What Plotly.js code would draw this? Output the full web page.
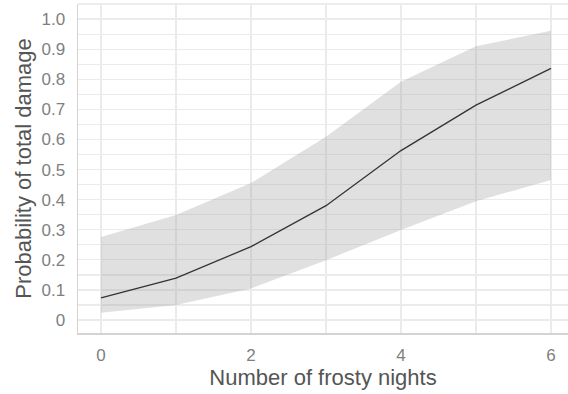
<!DOCTYPE html>
<html>
<head>
<meta charset="utf-8">
<script src="https://cdn.plot.ly/plotly-3.0.1.min.js"></script>
<style>html,body{margin:0;padding:0;background:#fff;}#chart{width:568px;height:394px;}</style>
</head>
<body>
<div id="chart"></div>
<script>
var nights = [0, 1, 2, 3, 4, 5, 6];
var probFit = [0.074, 0.139, 0.244, 0.38, 0.563, 0.714, 0.836];
var probLower = [0.024, 0.050, 0.105, 0.199, 0.299, 0.395, 0.465];
var probUpper = [0.276, 0.349, 0.455, 0.609, 0.792, 0.910, 0.961];
var yTickVals = [0, 0.1, 0.2, 0.3, 0.4, 0.5, 0.6, 0.7, 0.8, 0.9, 1.0];
var yTickText = ["0", "0.1", "0.2", "0.3", "0.4", "0.5", "0.6", "0.7", "0.8", "0.9", "1.0"];
var xTickVals = [0, 2, 4, 6];
var xTickText = ["0", "2", "4", "6"];

var traces = [
  {x: nights, y: probLower, mode: 'lines', line: {width: 0, color: 'rgba(0,0,0,0)'}, hoverinfo: 'skip', showlegend: false},
  {x: nights, y: probUpper, mode: 'lines', fill: 'tonexty', fillcolor: 'rgba(153,153,153,0.3)', line: {width: 0, color: 'rgba(0,0,0,0)'}, hoverinfo: 'skip', showlegend: false},
  {x: nights, y: probFit, mode: 'lines', line: {color: '#333333', width: 1.3}, showlegend: false}
];

var layout = {
  width: 568, height: 394,
  margin: {l: 78, r: 0, t: 4, b: 61},
  paper_bgcolor: '#ffffff', plot_bgcolor: '#ffffff',
  font: {family: 'Liberation Sans, Arial, sans-serif'},
  xaxis: {
    range: [-0.307, 6.227],
    tickvals: xTickVals, ticktext: xTickText,
    tickfont: {size: 17, color: '#7f7f7f'},
    gridcolor: '#ebebeb', gridwidth: 1.2,
    minor: {dtick: 1, tick0: 0, showgrid: true, gridcolor: '#ebebeb', gridwidth: 1.2},
    showline: true, linecolor: '#d4d4d4', linewidth: 1.5,
    zeroline: false, ticks: '', ticklabelstandoff: 6,
    title: {text: 'Number of frosty nights', font: {size: 22, color: '#555555'}, standoff: 4}
  },
  yaxis: {
    range: [-0.043, 1.05],
    tickvals: yTickVals, ticktext: yTickText,
    tickfont: {size: 17, color: '#7f7f7f'},
    gridcolor: '#ebebeb', gridwidth: 1.2,
    minor: {dtick: 0.05, tick0: 0, showgrid: true, gridcolor: '#ebebeb', gridwidth: 1.2},
    showline: true, linecolor: '#d4d4d4', linewidth: 1.5,
    zeroline: false, ticks: '', ticklabelstandoff: 8,
    title: {text: 'Probability of total damage', font: {size: 22, color: '#555555'}, standoff: 4}
  },
  shapes: [
    {type: 'line', xref: 'paper', yref: 'paper', x0: 0, x1: 1, y0: 1, y1: 1, line: {color: '#e6e6e6', width: 1.5}, layer: 'below'}
  ]
};

Plotly.newPlot('chart', traces, layout, {displayModeBar: false, staticPlot: true});
</script>
</body>
</html>
